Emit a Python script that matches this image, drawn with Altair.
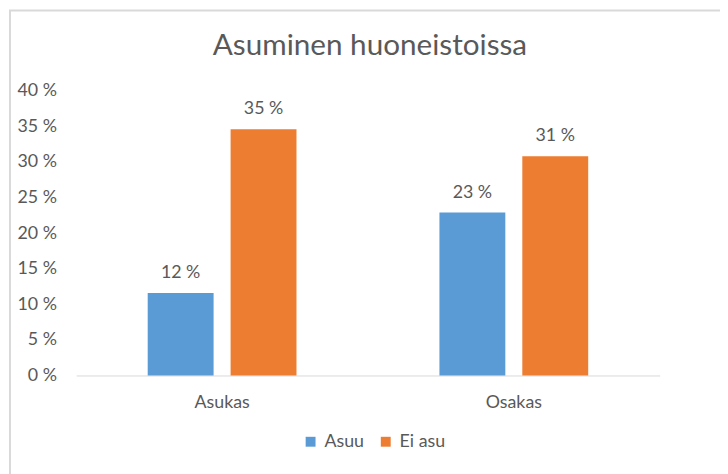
import altair as alt
import pandas as pd

# ---- data ----
categories = ["Asukas", "Asukas", "Osakas", "Osakas"]
series = ["Asuu", "Ei asu", "Asuu", "Ei asu"]
values = [11.6, 34.6, 22.9, 30.8]
category_order = ["Asukas", "Osakas"]
series_order = ["Asuu", "Ei asu"]
colors = ["#5B9BD5", "#ED7D31"]
y_ticks = [0, 5, 10, 15, 20, 25, 30, 35, 40]
title_text = "Asuminen huoneistoissa"

df = pd.DataFrame({"ryhma": categories, "sarja": series, "osuus": values})

FONT = "Lato"
GRAY = "#595959"
LIGHT = "#D9D9D9"

base = alt.Chart(df).transform_calculate(
    teksti="format(datum.osuus, '.0f') + ' %'"
).encode(
    x=alt.X(
        "ryhma:N",
        sort=category_order,
        title=None,
        scale=alt.Scale(paddingInner=0.49, paddingOuter=0.245),
        axis=alt.Axis(
            labelAngle=0, ticks=False, domainColor=LIGHT, domainWidth=1,
            labelFontSize=18, labelColor=GRAY, labelFont=FONT, labelPadding=18,
        ),
    ),
    xOffset=alt.XOffset(
        "sarja:N", sort=series_order,
        scale=alt.Scale(paddingInner=0.205, paddingOuter=0),
    ),
    y=alt.Y(
        "osuus:Q",
        title=None,
        scale=alt.Scale(domain=[0, 40]),
        axis=alt.Axis(
            values=y_ticks, tickCount=9, labelExpr="datum.value + ' %'",
            grid=False, domain=False, ticks=False, labelPadding=20,
            labelOverlap=False, labelFontSize=18, labelColor=GRAY,
            labelFont=FONT,
        ),
    ),
)

bars = base.mark_bar().encode(
    color=alt.Color(
        "sarja:N",
        sort=series_order,
        scale=alt.Scale(domain=series_order, range=colors),
        legend=alt.Legend(
            title=None, orient="none", legendX=228, legendY=346,
            direction="horizontal", symbolType="square", symbolSize=100,
            symbolStrokeWidth=0, labelFontSize=18, labelColor=GRAY,
            labelFont=FONT, columnPadding=12, labelOffset=5,
        ),
    ),
)

labels = base.mark_text(
    baseline="alphabetic", dy=-15, fontSize=18, color=GRAY, font=FONT
).encode(
    text="teksti:N",
)

border = alt.Chart(pd.DataFrame({"k": [0]})).mark_rect(
    fillOpacity=0, stroke=LIGHT, strokeWidth=2
).encode(
    x=alt.value(-67), x2=alt.value(720), y=alt.value(-81), y2=alt.value(470)
)

chart = alt.layer(border, bars, labels).properties(
    width=590,
    height=288,
    padding={"left": 69, "top": 81, "right": 61, "bottom": 97},
    autosize=alt.AutoSizeParams(type="none"),
    title=alt.Title(
        title_text, fontSize=30, font=FONT, color=GRAY,
        fontWeight="normal", anchor="middle", frame="group",
        offset=16, dy=68, dx=2,
    ),
).configure_view(stroke="transparent")

chart.save("out.html", embed_options={"renderer": "svg", "actions": False})
